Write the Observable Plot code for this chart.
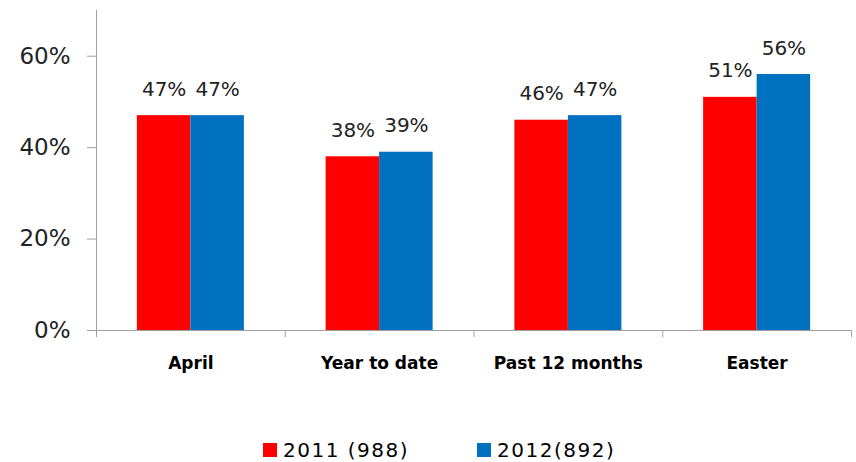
<!DOCTYPE html>
<html><head><meta charset="utf-8">
<script src="https://cdn.jsdelivr.net/npm/d3@7"></script>
<script src="https://cdn.jsdelivr.net/npm/@observablehq/plot@0.6"></script>
<style>
body{margin:0;background:#fff;}
#legend{display:flex;align-items:center;margin-top:38px;height:24px;padding-left:263px;font-family:"DejaVu Sans";font-size:20px;letter-spacing:1.5px;color:#000;}
.item{display:flex;align-items:center;}
.sw{width:14px;height:14px;margin-right:6px;}
</style></head><body><div id="chart"></div><div id="legend"></div>
<script>
const categories = ["April", "Year to date", "Past 12 months", "Easter"];
const years = ["2011", "2012"];
const values2011 = [47, 38, 46, 51];
const values2012 = [47, 39, 47, 56];
const legendLabels = ["2011 (988)", "2012(892)"];
const colors = ["#ff0000", "#0070c0"];
const yTicks = [0, 20, 40, 60];
const yMax = 70;

const data = categories.flatMap((c, i) => [
  {category: c, year: years[0], value: values2011[i]},
  {category: c, year: years[1], value: values2012[i]}
]);

const W = 856, H = 400, ML = 96, MR = 5, MT = 10, MB = 70;
const pad = 0.764;
const step = (W - ML - MR) / categories.length;
const bw = step / (2 + 2 * pad);
const off = pad * bw + bw / 2;
const axisColor = "#a0a0a0";

const leftBounds = categories.map((c, i) => ({category: c, year: years[0], top: i === 0 ? yMax : 0, bottom: 0}));
const rightBounds = [{category: categories[categories.length - 1], year: years[1], top: 0, bottom: 0}];

const chart = Plot.plot({
  width: W, height: H,
  marginLeft: ML, marginRight: MR, marginTop: MT, marginBottom: MB,
  style: {fontFamily: "DejaVu Sans", background: "#fff"},
  fx: {domain: categories, padding: 0, round: false, label: null},
  x: {domain: years, paddingInner: 0, paddingOuter: pad, round: false, axis: null},
  y: {domain: [0, yMax], label: null},
  color: {domain: years, range: colors},
  marks: [
    Plot.barY(data, {fx: "category", x: "year", y: "value", fill: "year"}),
    Plot.ruleY([0], {stroke: axisColor}),
    Plot.ruleX(leftBounds, {fx: "category", x: "year", y1: "top", y2: "bottom", dx: -off, insetBottom: -7, stroke: axisColor}),
    Plot.ruleX(rightBounds, {fx: "category", x: "year", y1: "top", y2: "bottom", dx: off, insetBottom: -7, stroke: axisColor}),
    Plot.text(data, {fx: "category", x: "year", y: "value", text: d => d.value + "%", dy: -20, lineAnchor: "bottom", fontSize: 20, fill: "#222"}),
    Plot.axisY({ticks: yTicks, tickFormat: d => d + "%", tickSize: 9, tickPadding: 17, fontSize: 23, stroke: axisColor, fill: "#222"}),
    Plot.axisFx({anchor: "bottom", tickSize: 0, tickPadding: 26, fontSize: 17, fontWeight: "bold", fill: "#000"})
  ]
});
document.getElementById("chart").appendChild(chart);

const legend = document.getElementById("legend");
legendLabels.forEach((t, i) => {
  const item = document.createElement("div");
  item.className = "item";
  if (i > 0) item.style.marginLeft = "68px";
  const sw = document.createElement("div");
  sw.className = "sw";
  sw.style.background = colors[i];
  const tx = document.createElement("span");
  tx.textContent = t;
  item.appendChild(sw); item.appendChild(tx);
  legend.appendChild(item);
});
</script></body></html>
